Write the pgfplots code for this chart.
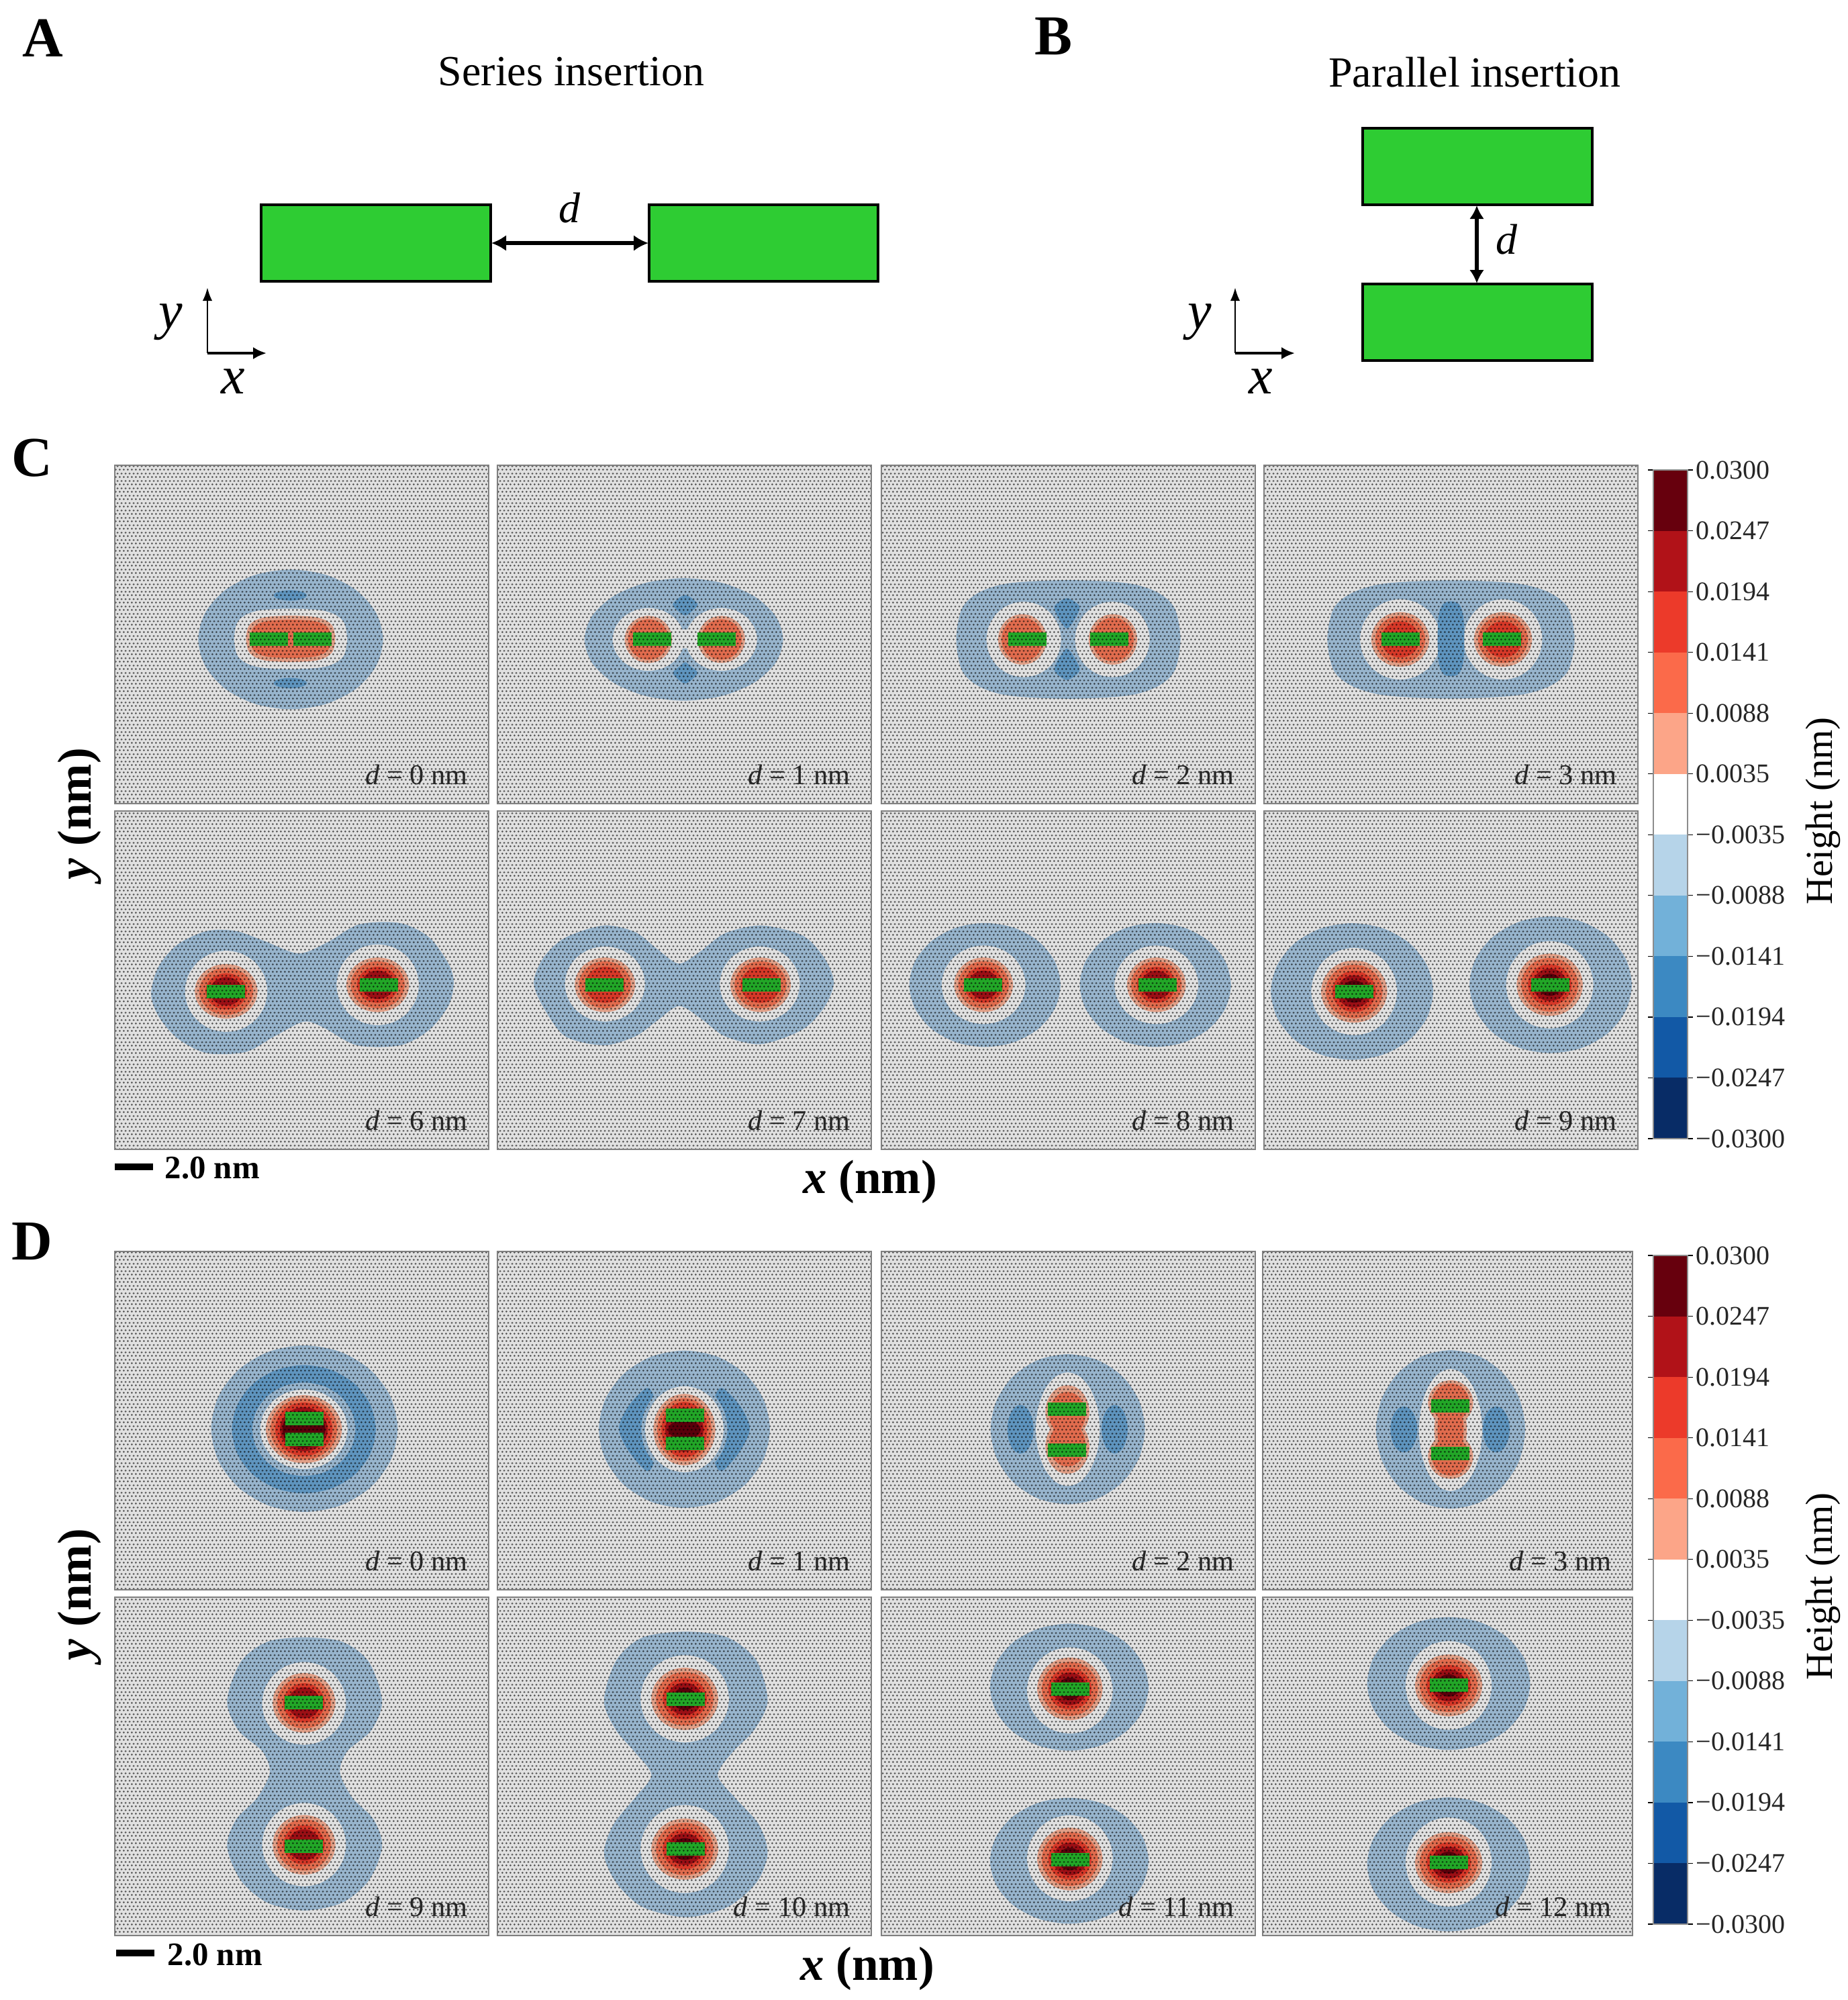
\documentclass[border=0pt]{standalone}
\usepackage{fontspec}
\setmainfont{Liberation Serif}
\usepackage{pgfplots}
\usepackage{pgfplotstable}
\pgfplotsset{compat=1.18}
\usetikzlibrary{patterns,arrows.meta}

\definecolor{ins}{HTML}{2ECC33}
\definecolor{ra}{HTML}{FCA588}
\definecolor{rb}{HTML}{FB6A4A}
\definecolor{rc}{HTML}{EC3A2A}
\definecolor{rd}{HTML}{B11218}
\definecolor{re}{HTML}{67000D}
\definecolor{ba}{HTML}{B6D4E9}
\definecolor{bb}{HTML}{72B1D9}
\definecolor{bc}{HTML}{3C89C2}
\definecolor{bd}{HTML}{1259A6}
\definecolor{be}{HTML}{082C66}
% the same levels as they are drawn under the atom layer
\definecolor{bandc}{HTML}{ACCDE9}
\definecolor{deepc}{HTML}{6CA9D9}
\definecolor{pa}{HTML}{FFB69A}
\definecolor{pb}{HTML}{FF7A58}
\definecolor{pc}{HTML}{F4402E}
\definecolor{insp}{HTML}{27BE2D}

% atoms of the sheet, laid over each height map
\pgfdeclarepatternformonly{atoms}{\pgfqpoint{0pt}{0pt}}{\pgfqpoint{1.425pt}{2.75pt}}{\pgfqpoint{1.425pt}{2.75pt}}{%
  \pgfpathcircle{\pgfqpoint{.356pt}{.6875pt}}{.4pt}
  \pgfpathcircle{\pgfqpoint{1.069pt}{2.0625pt}}{.4pt}
  \pgfusepath{fill}}

% unit shapes, scaled for each contour
\pgfplotstableread{
u v
1 0
.924 .383
.707 .707
.383 .924
0 1
-.383 .924
-.707 .707
-.924 .383
-1 0
-.924 -.383
-.707 -.707
-.383 -.924
0 -1
.383 -.924
.707 -.707
.924 -.383
}\ucirc
\pgfplotstableread{
u v
1 0
.948 .527
.794 .794
.527 .948
0 1
-.527 .948
-.794 .794
-.948 .527
-1 0
-.948 -.527
-.794 -.794
-.527 -.948
0 -1
.527 -.948
.794 -.794
.948 -.527
}\usqu
\pgfplotstableread{
u v
-1 -.35
1 -.35
1 .35
-1 .35
}\urect

\newcommand{\blob}[5]{\addplot[fill=#1,draw=none,smooth cycle] table[x expr=#2+#4*\thisrow{u},y expr=#3+#5*\thisrow{v}] {\ucirc};}
\newcommand{\sblob}[5]{\addplot[fill=#1,draw=none,smooth cycle] table[x expr=#2+#4*\thisrow{u},y expr=#3+#5*\thisrow{v}] {\usqu};}
\newcommand{\outline}[2]{\addplot[fill=#1,draw=none,smooth cycle] coordinates {#2};}
\newcommand{\ins}[2]{\addplot[fill=insp,draw=none] table[x expr=#1+\thisrow{u},y expr=#2+\thisrow{v}] {\urect} --cycle;}
% peak: cx cy rx ry, with two to five levels
\newcommand{\peakb}[4]{\blob{pa}{#1}{#2}{#3}{#4}\blob{pb}{#1}{#2}{0.86*#3}{0.86*#4}}
\newcommand{\peakc}[4]{\peakb{#1}{#2}{#3}{#4}\blob{pc}{#1}{#2}{0.66*#3}{0.66*#4}}
\newcommand{\peakd}[4]{\peakc{#1}{#2}{#3}{#4}\blob{rd}{#1}{#2}{0.52*#3}{0.52*#4}}
\newcommand{\peake}[4]{\peakd{#1}{#2}{#3}{#4}\blob{re}{#1}{#2}{0.36*#3}{0.36*#4}}

\pgfplotsset{
  panel/.style={
    anchor=north west,
    width=139.25pt,height=126pt,scale only axis,
    xmin=-9.77,xmax=9.77,ymin=-8.84,ymax=8.84,
    xtick=\empty,ytick=\empty,
    axis line style={draw=black!50,line width=.5pt},
    axis on top,
  },
  cbar/.style={
    anchor=north west,
    width=12.75pt,height=249pt,scale only axis,
    xmin=0,xmax=1,ymin=0,ymax=11,
    xtick=\empty,ytick={0,...,11},
    yticklabels={−0.0300,−0.0247,−0.0194,−0.0141,−0.0088,−0.0035,0.0035,0.0088,0.0141,0.0194,0.0247,0.0300},
    yticklabel pos=right,
    tick align=outside,
    major tick length=2pt,
    tick style={draw=black,line width=.3pt},
    yticklabel style={font=\fontsize{10}{12}\selectfont,/pgf/number format/assume math mode=true,inner sep=0pt,xshift=1pt,text=black!85},
    axis line style={draw=black!45,line width=.4pt},
    axis on top,
  },
}

% x(px) y(px) width(pt) xmax label body
\newcommand{\panel}[6]{%
\begin{axis}[panel,at={(#1*0.25pt,-#2*0.25pt)},width=#3pt,xmax=#4]
#6
\addplot[draw=none,fill=black,fill opacity=.12] coordinates {(-10,-10)(10,-10)(10,10)(-10,10)} --cycle;
\addplot[draw=none,pattern=atoms,pattern color=black,fill opacity=.62] coordinates {(-10,-10)(10,-10)(10,10)(-10,10)} --cycle;
\node[anchor=east,inner sep=0pt,text=black!85,font=\fontsize{10.6}{12}\selectfont] at (rel axis cs:.945,.085) {\textit{d} = #5 nm};
\end{axis}}

\newcommand{\colorbar}[2]{%
\begin{axis}[cbar,at={(#1*0.25pt,-#2*0.25pt)}]
\addplot[fill=be,draw=none] coordinates {(0,0)(1,0)(1,1)(0,1)} --cycle;
\addplot[fill=bd,draw=none] coordinates {(0,1)(1,1)(1,2)(0,2)} --cycle;
\addplot[fill=bc,draw=none] coordinates {(0,2)(1,2)(1,3)(0,3)} --cycle;
\addplot[fill=bb,draw=none] coordinates {(0,3)(1,3)(1,4)(0,4)} --cycle;
\addplot[fill=ba,draw=none] coordinates {(0,4)(1,4)(1,5)(0,5)} --cycle;
\addplot[fill=white,draw=none] coordinates {(0,5)(1,5)(1,6)(0,6)} --cycle;
\addplot[fill=ra,draw=none] coordinates {(0,6)(1,6)(1,7)(0,7)} --cycle;
\addplot[fill=rb,draw=none] coordinates {(0,7)(1,7)(1,8)(0,8)} --cycle;
\addplot[fill=rc,draw=none] coordinates {(0,8)(1,8)(1,9)(0,9)} --cycle;
\addplot[fill=rd,draw=none] coordinates {(0,9)(1,9)(1,10)(0,10)} --cycle;
\addplot[fill=re,draw=none] coordinates {(0,10)(1,10)(1,11)(0,11)} --cycle;
\end{axis}}

\begin{document}
\begin{tikzpicture}
\useasboundingbox (0,0) rectangle (688.25pt,-744.75pt);

% page axis in image pixels: schematics A and B, letters, axis titles
\begin{axis}[at={(0pt,-744.75pt)},anchor=south west,width=688.25pt,height=744.75pt,scale only axis,
  xmin=0,xmax=2753,ymin=0,ymax=2979,y dir=reverse,hide axis,clip=false]
\addplot[fill=ins,draw=black,line width=1.2pt] coordinates {(389,305)(731,305)(731,419)(389,419)} --cycle;
\addplot[fill=ins,draw=black,line width=1.2pt] coordinates {(967,305)(1308,305)(1308,419)(967,419)} --cycle;
\addplot[black,line width=1.5pt,{Latex[length=5.5pt,width=6pt]}-{Latex[length=5.5pt,width=6pt]}] coordinates {(732,362)(966,362)};
\addplot[black,line width=.7pt,-{Latex[length=5pt,width=3.6pt]}] coordinates {(309,526)(309,428)};
\addplot[black,line width=1pt,-{Latex[length=5pt,width=4.6pt]}] coordinates {(309,526)(397,526)};
\addplot[fill=ins,draw=black,line width=1.2pt] coordinates {(2030,191)(2372,191)(2372,305)(2030,305)} --cycle;
\addplot[fill=ins,draw=black,line width=1.2pt] coordinates {(2030,423)(2372,423)(2372,537)(2030,537)} --cycle;
\addplot[black,line width=1.5pt,{Latex[length=5pt,width=5.5pt]}-{Latex[length=5pt,width=5.5pt]}] coordinates {(2200,306)(2200,422)};
\addplot[black,line width=.7pt,-{Latex[length=5pt,width=3.6pt]}] coordinates {(1840,526)(1840,428)};
\addplot[black,line width=1pt,-{Latex[length=5pt,width=4.6pt]}] coordinates {(1840,526)(1929,526)};
% scale bars
\addplot[black,line width=2.5pt] coordinates {(171,1738)(228,1738)};
\addplot[black,line width=2.5pt] coordinates {(173,2909)(230,2909)};

\node[font=\fontsize{21}{24}\selectfont\bfseries] at (axis cs:64,57) {A};
\node[font=\fontsize{21}{24}\selectfont\bfseries] at (axis cs:1569,54) {B};
\node[font=\fontsize{21}{24}\selectfont\bfseries] at (axis cs:48,682) {C};
\node[font=\fontsize{21}{24}\selectfont\bfseries] at (axis cs:48,1849) {D};
\node[font=\fontsize{16}{19}\selectfont] at (axis cs:851,107) {Series insertion};
\node[font=\fontsize{16}{19}\selectfont] at (axis cs:2197,108) {Parallel insertion};
\node[font=\fontsize{16}{19}\selectfont\itshape] at (axis cs:848,310) {d};
\node[font=\fontsize{16}{19}\selectfont\itshape] at (axis cs:2244,357) {d};
\node[font=\fontsize{20}{24}\selectfont\itshape] at (axis cs:254,480) {y};
\node[font=\fontsize{20}{24}\selectfont\itshape] at (axis cs:347,568) {x};
\node[font=\fontsize{20}{24}\selectfont\itshape] at (axis cs:1787,480) {y};
\node[font=\fontsize{20}{24}\selectfont\itshape] at (axis cs:1878,568) {x};
\node[anchor=west,inner sep=0pt,font=\fontsize{12.2}{15}\selectfont\bfseries] at (axis cs:245,1740) {2.0 nm};
\node[anchor=west,inner sep=0pt,font=\fontsize{12.2}{15}\selectfont\bfseries] at (axis cs:249,2912) {2.0 nm};
\node[font=\fontsize{17.8}{21}\selectfont\bfseries] at (axis cs:1296,1760) {\textit{x} (nm)};
\node[font=\fontsize{17.8}{21}\selectfont\bfseries] at (axis cs:1292,2932) {\textit{x} (nm)};
\node[rotate=90,font=\fontsize{17.8}{21}\selectfont\bfseries] at (axis cs:118,1212) {\textit{y} (nm)};
\node[rotate=90,font=\fontsize{17.8}{21}\selectfont\bfseries] at (axis cs:118,2375) {\textit{y} (nm)};
\node[rotate=90,font=\fontsize{14.2}{17}\selectfont] at (axis cs:2716,1208) {Height (nm)};
\node[rotate=90,font=\fontsize{14.2}{17}\selectfont] at (axis cs:2716,2363) {Height (nm)};
\end{axis}

% C, series insertion
\panel{171}{693}{139.25}{9.77}{0}{
\blob{bandc}{-.58}{-.26}{4.83}{3.65}
\blob{deepc}{-.6}{2.04}{.86}{.27}
\blob{deepc}{-.6}{-2.54}{.86}{.27}
\sblob{white}{-.58}{-.23}{2.95}{1.58}
\sblob{pa}{-.58}{-.23}{2.33}{1.21}
\sblob{pb}{-.58}{-.23}{2.1}{1.0}
\ins{-1.73}{-.25}\ins{.57}{-.25}}

\panel{741}{693}{139.25}{9.77}{1}{
\blob{bandc}{-.03}{-.26}{5.19}{3.2}
\blob{white}{-1.88}{-.26}{1.87}{1.64}
\blob{white}{1.93}{-.26}{1.87}{1.64}
\outline{deepc}{(.04,2.06)(.69,1.6)(.42,1.24)(.04,.99)(-.34,1.24)(-.6,1.6)}
\outline{deepc}{(.04,-2.56)(-.6,-2.03)(-.26,-1.68)(.04,-1.45)(.34,-1.68)(.69,-2.03)}
\blob{white}{.02}{-.23}{.6}{.5}
\peakb{-1.88}{-.26}{1.24}{1.23}
\peakb{1.93}{-.26}{1.24}{1.23}
\ins{-1.68}{-.23}\ins{1.68}{-.23}}

\panel{1313}{693}{139.25}{9.77}{2}{
\sblob{bandc}{0}{-.26}{5.86}{3.1}
\blob{white}{-2.33}{-.26}{1.95}{1.97}
\blob{white}{2.3}{-.26}{1.95}{1.97}
\outline{deepc}{(-.07,1.89)(.58,1.48)(.39,.89)(-.07,.31)(-.53,.89)(-.72,1.48)}
\outline{deepc}{(-.07,-2.38)(.58,-1.91)(.39,-1.33)(-.07,-.74)(-.53,-1.33)(-.72,-1.91)}
\peakb{-2.4}{-.26}{1.27}{1.32}
\peakb{2.33}{-.26}{1.27}{1.32}
\ins{-2.15}{-.23}\ins{2.13}{-.23}}

\panel{1883}{693}{139.25}{9.77}{3}{
\sblob{bandc}{0}{-.26}{6.46}{3.09}
\blob{white}{-2.65}{-.26}{2.1}{2.1}
\blob{white}{2.72}{-.26}{2.05}{2.1}
\sblob{deepc}{0}{-.23}{.7}{1.96}
\peakc{-2.65}{-.26}{1.52}{1.43}
\peakc{2.72}{-.26}{1.52}{1.43}
\ins{-2.63}{-.24}\ins{2.68}{-.24}}

\panel{171}{1208}{139.25}{9.77}{6}{
\outline{bandc}{(-7.87,-.71)(-7.49,.7)(-6.48,1.87)(-4.96,2.57)(-3.44,2.57)(-1.93,2.04)(-.16,1.4)(1.36,1.99)(3.01,2.92)(5.16,2.98)(6.68,2.22)(7.69,.82)(7.94,-.12)(7.69,-1.29)(6.68,-2.58)(5.16,-3.4)(2.88,-3.4)(1.11,-2.46)(.1,-2.17)(-1.42,-2.93)(-2.94,-3.75)(-4.96,-3.81)(-6.48,-3.05)(-7.49,-1.88)}
\blob{white}{-3.95}{-.58}{2.15}{2.12}
\blob{white}{3.97}{-.24}{2.15}{2.11}
\peakd{-3.95}{-.58}{1.64}{1.43}
\peakd{3.97}{-.24}{1.64}{1.43}
\ins{-3.95}{-.59}\ins{4.02}{-.24}}

\panel{741}{1208}{139.25}{9.77}{7}{
\outline{bandc}{(-7.87,-.12)(-7.37,1.17)(-6.23,2.22)(-4.2,2.86)(-2.56,2.51)(-1.42,1.63)(-.28,.87)(.86,1.52)(2.12,2.45)(4.02,2.86)(6.17,2.34)(7.31,1.17)(7.81,-.12)(7.31,-1.41)(6.17,-2.58)(4.02,-3.34)(2.12,-2.93)(.86,-2)(-.28,-1.35)(-1.42,-2.11)(-2.56,-2.93)(-4.2,-3.4)(-6.23,-2.93)(-7.37,-1.41)}
\blob{white}{-4.15}{-.2}{2.09}{1.96}
\blob{white}{3.94}{-.2}{2.09}{1.96}
\peakc{-4.15}{-.24}{1.58}{1.43}
\peakc{3.98}{-.24}{1.58}{1.43}
\ins{-4.18}{-.24}\ins{4.04}{-.24}}

\panel{1313}{1208}{139.25}{9.77}{8}{
\blob{bandc}{-4.36}{-.25}{3.95}{3.24}
\blob{bandc}{4.55}{-.25}{3.95}{3.24}
\blob{white}{-4.43}{-.24}{2.19}{2.05}
\blob{white}{4.6}{-.24}{2.19}{2.05}
\peakd{-4.43}{-.24}{1.54}{1.43}
\peakd{4.6}{-.24}{1.54}{1.43}
\ins{-4.46}{-.24}\ins{4.68}{-.24}}

\panel{1883}{1208}{139.25}{9.77}{9}{
\blob{bandc}{-5.17}{-.59}{4.24}{3.57}
\blob{bandc}{5.21}{-.24}{4.24}{3.57}
\blob{white}{-5.06}{-.59}{2.24}{2.28}
\blob{white}{5.16}{-.24}{2.28}{2.28}
\peake{-5.06}{-.59}{1.73}{1.63}
\peake{5.16}{-.24}{1.73}{1.63}
\ins{-5.06}{-.59}\ins{5.18}{-.24}}
\colorbar{2463}{700}

% D, parallel insertion
\panel{171}{1864}{139.25}{9.77}{0}{
\blob{bandc}{.14}{-.42}{4.87}{4.35}
\blob{deepc}{.11}{-.45}{3.76}{3.35}
\blob{bandc}{.11}{-.45}{2.69}{2.44}
\blob{white}{.11}{-.45}{2.28}{2.08}
\blob{pa}{.11}{-.45}{1.99}{1.78}
\blob{pb}{.11}{-.45}{1.75}{1.6}
\blob{pc}{.11}{-.45}{1.5}{1.4}
\blob{rd}{.11}{-.45}{1.25}{1.15}
\blob{re}{.11}{-.45}{1.12}{.95}
\ins{.13}{.09}\ins{.13}{-.98}}

\panel{741}{1864}{139.25}{9.77}{1}{
\blob{bandc}{0}{-.45}{4.47}{4.11}
\outline{deepc}{(-1.97,1.7)(-2.92,.76)(-3.42,-.41)(-2.92,-1.58)(-1.97,-2.63)(-1.59,-2.05)(-1.97,-.41)(-1.59,1.11)}
\outline{deepc}{(1.97,1.7)(2.92,.76)(3.42,-.41)(2.92,-1.58)(1.97,-2.63)(1.59,-2.05)(1.97,-.41)(1.59,1.11)}
\blob{bandc}{0}{-.45}{2.25}{2.45}
\blob{white}{0}{-.45}{2.05}{2.25}
\blob{pa}{0}{-.47}{1.62}{1.87}
\blob{pb}{0}{-.47}{1.42}{1.65}
\blob{pc}{0}{-.47}{1.2}{1.45}
\blob{rd}{0}{-.47}{1.0}{1.15}
\blob{re}{0}{-.47}{.85}{.5}
\ins{.04}{.27}\ins{.04}{-1.18}}

\panel{1313}{1864}{139.25}{9.77}{2}{
\blob{bandc}{-.03}{-.45}{4.03}{3.92}
\blob{white}{-.03}{-.45}{1.67}{2.97}
\blob{deepc}{-2.5}{-.45}{.68}{1.27}
\blob{deepc}{2.42}{-.45}{.68}{1.27}
\blob{pa}{-.05}{.45}{1.15}{1.4}
\blob{pa}{-.05}{-1.35}{1.15}{1.43}
\blob{pa}{-.05}{-.45}{.9}{1.2}
\blob{pb}{-.05}{.35}{.95}{1.15}
\blob{pb}{-.05}{-1.25}{.95}{1.15}
\blob{pb}{-.05}{-.45}{.72}{1.1}
\ins{-.07}{.61}\ins{-.07}{-1.53}}

\panel{1881}{1864}{137.75}{9.56}{3}{
\blob{bandc}{.05}{-.46}{3.9}{4.14}
\blob{white}{.05}{-.49}{1.65}{3.19}
\blob{deepc}{-2.39}{-.46}{.7}{1.2}
\blob{deepc}{2.44}{-.46}{.7}{1.2}
\blob{pa}{.05}{.94}{1.18}{1.17}
\blob{pa}{.05}{-1.87}{1.18}{1.17}
\blob{pa}{.05}{-.47}{.85}{1.9}
\blob{pb}{.05}{.94}{.98}{1}
\blob{pb}{.05}{-1.87}{.98}{1}
\blob{pb}{.05}{-.47}{.68}{1.9}
\ins{.05}{.77}\ins{.05}{-1.72}}
\colorbar{2463}{1870}

\panel{171}{2379}{139.25}{9.77}{9}{
\outline{bandc}{(.15,6.74)(2.12,6.51)(3.51,5.46)(4.2,3.41)(3.64,1.89)(2.37,.78)(2,-.33)(2.63,-1.62)(3.77,-2.79)(4.2,-4.2)(3.51,-5.95)(2.12,-7.12)(.15,-7.53)(-1.8,-7.12)(-3.19,-5.95)(-3.9,-4.2)(-3.44,-2.79)(-2.31,-1.62)(-1.67,-.33)(-2.05,.78)(-3.32,1.89)(-3.9,3.41)(-3.19,5.46)(-1.8,6.51)}
\blob{white}{.12}{3.29}{2.19}{2.16}
\blob{white}{.12}{-4.09}{2.19}{2.18}
\peakd{.12}{3.32}{1.64}{1.56}
\peakd{.12}{-4.1}{1.64}{1.56}
\ins{.12}{3.32}\ins{.12}{-4.17}}

\panel{741}{2379}{139.25}{9.77}{10}{
\outline{bandc}{(.1,7.04)(2.25,6.74)(3.77,5.52)(4.35,3.41)(3.64,1.89)(2.5,.72)(1.74,-.45)(2.63,-1.62)(3.89,-3.03)(4.35,-4.55)(3.77,-6.07)(2.25,-7.35)(.1,-7.88)(-2.18,-7.35)(-3.57,-6.07)(-4.2,-4.55)(-3.7,-3.03)(-2.56,-1.62)(-1.72,-.45)(-2.56,.72)(-3.57,1.89)(-4.2,3.41)(-3.57,5.52)(-2.18,6.74)}
\blob{white}{.02}{3.53}{2.31}{2.28}
\blob{white}{.02}{-4.32}{2.31}{2.3}
\peake{.02}{3.53}{1.75}{1.63}
\peake{.02}{-4.32}{1.75}{1.6}
\ins{.07}{3.5}\ins{.07}{-4.33}}

\panel{1313}{2379}{139.25}{9.77}{11}{
\blob{bandc}{.05}{4.14}{4.14}{3.32}
\blob{bandc}{.05}{-4.93}{4.14}{3.29}
\blob{white}{.08}{3.97}{2.24}{2.25}
\blob{white}{.08}{-4.8}{2.24}{2.25}
\peake{.08}{4.05}{1.71}{1.64}
\peake{.08}{-4.84}{1.71}{1.64}
\ins{.1}{4.04}\ins{.1}{-4.87}}

\panel{1881}{2379}{137.75}{9.56}{12}{
\blob{bandc}{-.05}{4.33}{4.26}{3.47}
\blob{bandc}{-.05}{-5.12}{4.26}{3.5}
\blob{white}{-.05}{4.23}{2.25}{2.32}
\blob{white}{-.05}{-5}{2.25}{2.33}
\peake{-.05}{4.23}{1.76}{1.62}
\peake{-.05}{-5.03}{1.76}{1.6}
\ins{-.05}{4.23}\ins{-.05}{-5.01}}
\end{tikzpicture}
\end{document}
